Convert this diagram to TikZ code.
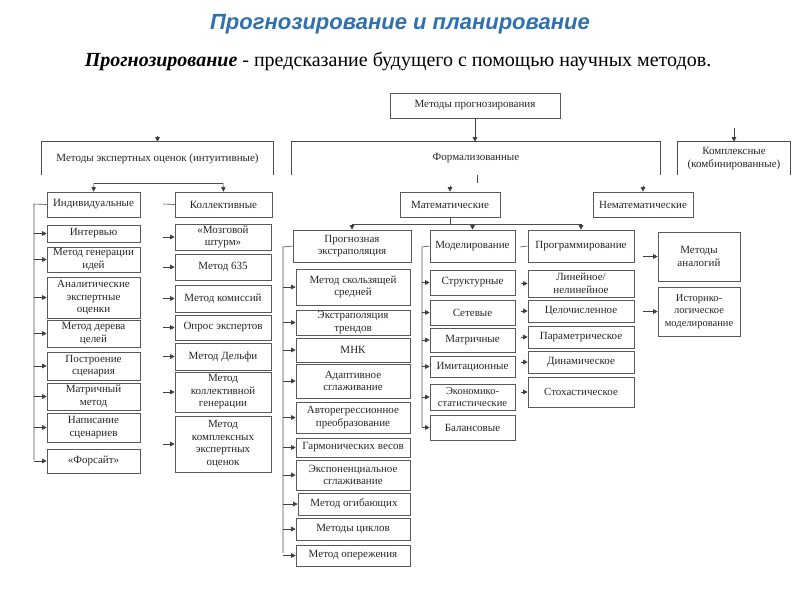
\documentclass[tikz,border=0pt]{standalone}
\usepackage{fontspec}
\setmainfont{Liberation Serif}
\newfontfamily\titlefont{Liberation Sans}
\usetikzlibrary{arrows.meta}
\definecolor{titleblue}{RGB}{47,112,176}
\tikzset{
  bx/.style={draw=black!65, line width=0.6pt, align=center, inner sep=1pt,
    font=\fontsize{11}{12.5}\selectfont, text=black!85},
  ar/.style={draw=black!75, line width=0.6pt, -{Triangle[width=4.5pt,length=4.5pt]}},
  ln/.style={draw=black!70, line width=0.6pt},
}
\newcommand\bx[7][]{\node[bx,#1,minimum width={#5-#3},minimum height={#6-#4}] (#2) at ({(#3+#5)/2},{(#4+#6)/2}) {#7};}
\begin{document}
\begin{tikzpicture}[x=1pt,y=-1pt]
\useasboundingbox (0,0) rectangle (800,600);
\node[font=\titlefont\bfseries\itshape\fontsize{22}{26}\selectfont, text=titleblue] (title) at (400,24) {Прогнозирование и планирование};
\node[font=\fontsize{20}{24}\selectfont] (sub) at (398,61) {\textbf{\textit{Прогнозирование}} - предсказание будущего с помощью научных методов.};

% top level
\bx{mp}{390}{93}{560}{118}{Методы прогнозирования}
\bx[draw=none]{meo}{42}{142}{273}{175}{Методы экспертных оценок (интуитивные)}
\bx[draw=none]{form}{292}{142}{660}{175}{Формализованные}
\bx[draw=none]{kom}{678}{142}{790}{175}{Комплексные\\(комбинированные)}
\foreach \n in {meo,form,kom}{\draw[ln] (\n.south west) -- (\n.north west) -- (\n.north east) -- (\n.south east);}
\draw[ar] (mp.south) -- (mp.south |- form.north);
\draw[ar] ([yshift=6]meo.north) -- (meo.north);
\draw[ar] ([yshift=14]kom.north) -- (kom.north);

% second level
\bx{ind}{47}{192}{140}{217}{Индивидуальные}
\bx{kol}{175}{192}{272}{217}{Коллективные}
\bx{mat}{400}{192}{500}{217}{Математические}
\bx{nemat}{593}{192}{693}{217}{Нематематические}
\coordinate (b1) at (94,183);
\coordinate (b2) at (223,183);
\draw[ln] (b1) -- (b2);
\draw[ar] (b1) -- (ind.north);
\draw[ar] (b2) -- (kol.north);
\coordinate (fs) at (477,175);
\draw[ln] (fs) -- ++(0,8);
\draw[ar] ([yshift=6]mat.north) -- (mat.north);
\draw[ar] ([yshift=6]nemat.north) -- (nemat.north);

% individual
\bx{int}{47}{225}{140}{242}{Интервью}
\bx{mgi}{47}{247}{140}{272}{Метод генерации\\идей}
\bx{aeo}{47}{277}{140}{318}{Аналитические\\экспертные\\оценки}
\bx{mdc}{47}{320}{140}{347}{Метод дерева\\целей}
\bx{pss}{47}{352}{140}{380}{Построение\\сценария}
\bx{mmt}{47}{383}{140}{410}{Матричный\\метод}
\bx{nsc}{47}{413}{140}{442}{Написание\\сценариев}
\bx{fors}{47}{449}{140}{473}{«Форсайт»}
\coordinate (s1) at (34,204);
\coordinate (s1e) at (34,460);
\draw[ln] (ind.west) -- (s1) -- (s1e);
\foreach \n in {int,mgi,aeo,mdc,pss,mmt,nsc,fors}{\draw[ar] (\n.west -| s1) -- (\n.west);}

% collective
\bx{ms}{175}{224}{271}{250}{«Мозговой\\штурм»}
\bx{m635}{175}{254}{271}{280}{Метод 635}
\bx{mk}{175}{285}{271}{312}{Метод комиссий}
\bx{oe}{175}{315}{271}{340}{Опрос экспертов}
\bx{md}{175}{343}{271}{370}{Метод Дельфи}
\bx{mkg}{175}{372}{271}{412}{Метод\\коллективной\\генерации}
\bx{mkeo}{175}{416}{271}{472}{Метод\\комплексных\\экспертных\\оценок}
\coordinate (s2) at (163,204);
\draw[ln] (kol.west) -- (s2);
\foreach \n in {ms,m635,mk,oe,md,mkg,mkeo}{\draw[ar] ([xshift=-12]\n.west) -- (\n.west);}

% mathematical level
\bx{pe}{293}{230}{411}{262}{Прогнозная\\экстраполяция}
\bx{mod}{430}{230}{515}{262}{Моделирование}
\bx{prog}{528}{230}{634}{262}{Программирование}
\coordinate (m1) at (352,224);
\coordinate (m2) at (581,224);
\draw[ln] (m1) -- (m2);
\draw[ln] (mat.south) -- (mat.south |- m1);
\draw[ar] (m1) -- (pe.north);
\draw[ar] (mod.north |- m1) -- (mod.north);
\draw[ar] (m2) -- (prog.north);

% extrapolation
\bx{pea}{296}{269}{410}{305}{Метод скользящей\\средней}
\bx{peb}{296}{310}{410}{335}{Экстраполяция\\трендов}
\bx{pec}{296}{338}{410}{362}{МНК}
\bx{ped}{296}{364}{410}{398}{Адаптивное\\сглаживание}
\bx{pee}{296}{402}{410}{433}{Авторегрессионное\\преобразование}
\bx{pef}{296}{438}{410}{457}{Гармонических весов}
\bx{peg}{296}{460}{410}{490}{Экспоненциальное\\сглаживание}
\bx{peh}{298}{493}{410}{515}{Метод огибающих}
\bx{pei}{296}{518}{410}{540}{Методы циклов}
\bx{pej}{296}{545}{410}{566}{Метод опережения}
\coordinate (s3) at (283,247);
\coordinate (s3e) at (283,553);
\draw[ln] (pe.west) -- (s3) -- (s3e);
\foreach \n in {pea,peb,pec,ped,pee,pef,peg,peh,pei,pej}{\draw[ar] (\n.west -| s3) -- (\n.west);}

% modelling
\bx{moa}{430}{270}{515}{295}{Структурные}
\bx{mob}{430}{300}{515}{325}{Сетевые}
\bx{moc}{430}{328}{515}{352}{Матричные}
\bx{mod4}{430}{356}{515}{377}{Имитационные}
\bx[font=\fontsize{10.5}{12}\selectfont]{moe}{430}{384}{515}{410}{Экономико-\\статистические}
\bx{mof}{430}{415}{515}{440}{Балансовые}
\coordinate (s4) at (422,247);
\coordinate (s4e) at (422,427);
\draw[ln] (mod.west) -- (s4) -- (s4e);
\foreach \n in {moa,mob,moc,mod4,moe,mof}{\draw[ar] (\n.west -| s4) -- (\n.west);}

% programming
\bx{pra}{528}{270}{634}{297}{Линейное/\\нелинейное}
\bx{prb}{528}{300}{634}{322}{Целочисленное}
\bx{prc}{528}{326}{634}{348}{Параметрическое}
\bx{prd}{528}{351}{634}{373}{Динамическое}
\bx{pre}{528}{377}{634}{407}{Стохастическое}
\coordinate (s5) at (520,247);
\draw[ln] (prog.west) -- (s5);
\foreach \n in {pra,prb,prc,prd,pre}{\draw[ar] ([xshift=-7]\n.west) -- (\n.west);}

% non-mathematical
\bx{naa}{658}{232}{740}{281}{Методы\\аналогий}
\bx[font=\fontsize{10.5}{12.5}\selectfont]{nab}{658}{287}{740}{336}{Историко-\\логическое\\моделирование}
\foreach \n in {naa,nab}{\draw[ar] ([xshift=-15]\n.west) -- (\n.west);}
\end{tikzpicture}
\end{document}
